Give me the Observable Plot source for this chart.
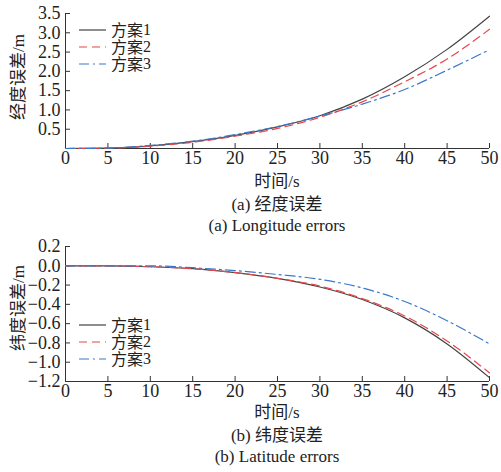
<!DOCTYPE html>
<html><head><meta charset="utf-8">
<script src="https://cdn.jsdelivr.net/npm/d3@7"></script>
<script src="https://cdn.jsdelivr.net/npm/@observablehq/plot@0.6"></script>
<style>
body{margin:0;background:#fff;}
#wrap{position:relative;width:501px;height:472px;font-family:"Liberation Serif","Noto Sans CJK SC",serif;color:#222;}
#wrap svg text{font-family:"Liberation Serif",serif !important;fill:#222;}
.l{font-family:"Liberation Serif",serif;}
.c{font-family:"Noto Sans CJK SC",sans-serif;}
.cap{position:absolute;left:65px;width:424px;text-align:center;font-size:17px;line-height:20px;white-space:nowrap;}
.ylab{position:absolute;font-size:17px;line-height:20px;transform:translate(-50%,-50%) rotate(-90deg);white-space:nowrap;}
.leg{position:absolute;font-size:16px;line-height:17px;}
.leg div{height:17px;display:flex;align-items:center;white-space:nowrap;}
.leg svg{margin-right:4px;}
</style></head>
<body><div id="wrap"></div>
<script>
const time = [0,5,10,15,20,25,30,35,40,45,50];
const lon1 = [0,0.01,0.07,0.18,0.34,0.56,0.85,1.28,1.86,2.57,3.43];
const lon2 = [0,0.01,0.06,0.16,0.32,0.52,0.81,1.21,1.73,2.32,3.09];
const lon3 = [0,0.01,0.08,0.19,0.36,0.57,0.84,1.15,1.53,2.03,2.56];
const lat1 = [0,0,-0.01,-0.03,-0.07,-0.13,-0.22,-0.35,-0.54,-0.81,-1.16];
const lat2 = [0,0,-0.01,-0.03,-0.07,-0.13,-0.21,-0.34,-0.52,-0.78,-1.11];
const lat3 = [0,0,0,-0.02,-0.05,-0.09,-0.14,-0.23,-0.37,-0.57,-0.81];
const seriesNames = ["方案1","方案2","方案3"];
const xTicks = [0,5,10,15,20,25,30,35,40,45,50];
const lonTicks = [0.5,1.0,1.5,2.0,2.5,3.0,3.5];
const latTicks = [0.2,0.0,-0.2,-0.4,-0.6,-0.8,-1.0,-1.2];
const colors = ["#444444","#e8474a","#3b78c9"];
const dashes = [null,"8,5","10,4,2,4"];

const wrap = document.getElementById("wrap");
const fmt = d3.format(".1f");
const FF = "Liberation Serif";

function panel(series, ydom, yticks, top){
  const W=501,H=170,mt=14,mb=21,ml=65,mr=12;
  const innerW=W-ml-mr, innerH=H-mt-mb;
  const marks = [
    Plot.axisX({ticks:xTicks,tickSize:0,tickPadding:3,label:null,fontSize:18,fontFamily:FF}),
    Plot.axisY({ticks:yticks,tickSize:0,tickPadding:5,label:null,tickFormat:fmt,fontSize:18,fontFamily:FF}),
    Plot.ruleX(xTicks,{x:d=>d,insetTop:innerH-5,stroke:"#333",strokeWidth:1}),
    Plot.ruleY(yticks,{y:d=>d,insetRight:innerW-5,stroke:"#333",strokeWidth:1}),
    Plot.ruleX([0],{stroke:"#333",strokeWidth:1}),
    Plot.ruleY([ydom[0]],{stroke:"#333",strokeWidth:1})
  ];
  series.forEach((s,i)=>{
    marks.push(Plot.line(time.map((t,j)=>({t,v:s[j]})),{x:"t",y:"v",stroke:colors[i],strokeWidth:1.2,strokeDasharray:dashes[i],curve:"monotone-x"}));
  });
  const p = Plot.plot({width:W,height:H,marginTop:mt,marginBottom:mb,marginLeft:ml,marginRight:mr,
    x:{domain:[0,50]}, y:{domain:ydom},
    style:{fontFamily:FF,fontSize:"18px",color:"#222",background:"transparent"},
    marks});
  p.style.position="absolute"; p.style.left="0px"; p.style.top=top+"px";
  wrap.appendChild(p);
}
panel([lon1,lon2,lon3],[0,3.5],lonTicks,-1);
panel([lat1,lat2,lat3],[-1.2,0.2],latTicks,232);

function addText(cls,html,top,left){
  const d=document.createElement("div"); d.className=cls; d.innerHTML=html;
  d.style.top=top+"px"; if(left!==undefined) d.style.left=left+"px";
  wrap.appendChild(d); return d;
}
addText("cap",'<span class="c">时间</span><span class="l">/s</span>',170);
addText("cap",'<span class="l">(a) </span><span class="c">经度误差</span>',193);
addText("cap",'<span class="l">(a) Longitude errors</span>',216);
addText("cap",'<span class="c">时间</span><span class="l">/s</span>',401);
addText("cap",'<span class="l">(b) </span><span class="c">纬度误差</span>',424);
addText("cap",'<span class="l">(b) Latitude errors</span>',447);
addText("ylab",'<span class="c">经度误差</span><span class="l">/m</span>',77,18);
addText("ylab",'<span class="c">纬度误差</span><span class="l">/m</span>',308,18);

function legend(top){
  const L=document.createElement("div"); L.className="leg";
  L.style.left="79px"; L.style.top=top+"px";
  seriesNames.forEach((n,i)=>{
    const row=document.createElement("div");
    row.innerHTML=`<svg width="28" height="10"><line x1="0" x2="27" y1="5" y2="5" stroke="${colors[i]}" stroke-width="1.2" ${dashes[i]?`stroke-dasharray="${dashes[i]}"`:""}/></svg><span class="c">${n.slice(0,2)}</span><span class="l">${n.slice(2)}</span>`;
    L.appendChild(row);
  });
  wrap.appendChild(L);
}
legend(21);
legend(316);
</script></body></html>
